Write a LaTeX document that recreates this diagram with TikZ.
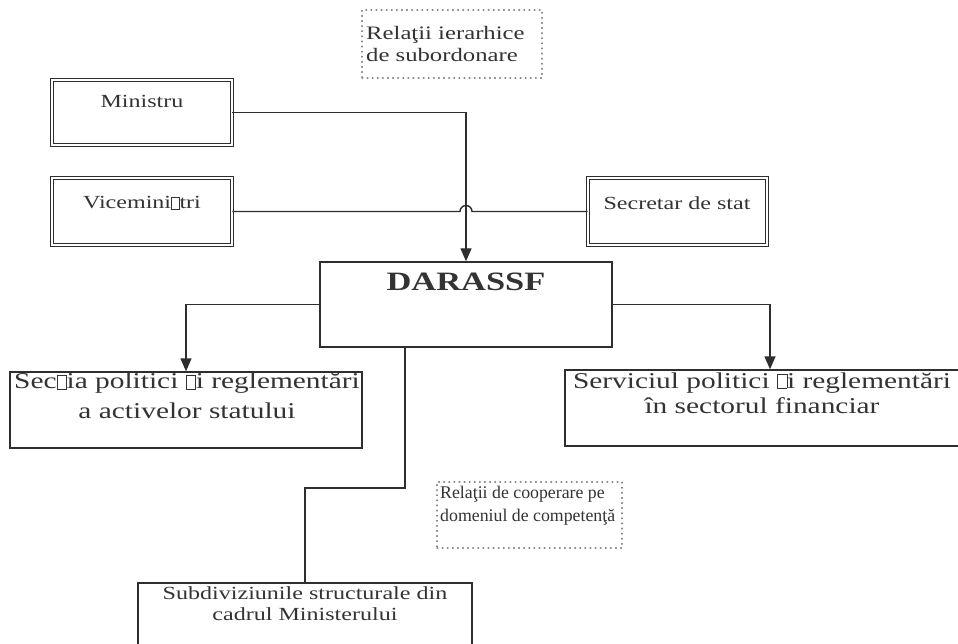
\documentclass[tikz,border=0pt]{standalone}
\usepackage{fontspec}
\setmainfont{Liberation Serif}[FakeStretch=1.3]
\newfontfamily\plainserif{Liberation Serif}
\usetikzlibrary{arrows.meta}
\definecolor{inkc}{HTML}{2E2E2E}
\definecolor{txtc}{HTML}{333333}
\definecolor{dotc}{HTML}{8A8A8A}
\newcommand\gapbox{{\setlength{\fboxsep}{0pt}\setlength{\fboxrule}{0.5pt}\fbox{\rule{0pt}{0.6em}\hspace{0.4em}}}}
\begin{document}
\begin{tikzpicture}[x=1pt,y=1pt,
  box/.style={draw=inkc, line width=1.4pt, inner sep=0pt, minimum width=#1},
  dbox/.style={draw=inkc, line width=0.9pt, double=white, double distance=1.8pt, inner sep=0pt, minimum width=#1},
  dotbox/.style={draw=dotc, line width=1.1pt, dash pattern=on 0.9pt off 4.2pt, line cap=round, inner sep=0pt, minimum width=#1},
  txt/.style={text=txtc, inner sep=0pt, align=center},
  conn/.style={draw=inkc, line width=1.4pt},
  arr/.style={conn, -{Triangle[length=13pt,width=11pt]}}]
\useasboundingbox (0,0) rectangle (958,-644);
\clip (0,0) rectangle (958,-644);
\fill[white] (0,0) rectangle (958,-644);

% dotted legend boxes
\node[dotbox=180, minimum height=68] (leg1) at (452,-44) {};
\node[txt, align=left, anchor=west, font=\fontsize{19}{22}\selectfont] (leg1t) at (366,-44) {Relaţii ierarhice\\de subordonare};
\node[dotbox=185, minimum height=66] (leg2) at (529.5,-515) {};
\node[txt, align=left, anchor=west, font=\plainserif\fontsize{17.8}{23}\selectfont] (leg2t) at (440,-506) {Relaţii de cooperare pe\\domeniul de competenţă};

% double boxes
\node[dbox=180, minimum height=65] (min) at (142,-112.5) {};
\node[txt, font=\fontsize{18.5}{20}\selectfont] (mint) at (142,-101) {Ministru};
\node[dbox=180, minimum height=67] (vic) at (142,-211.5) {};
\node[txt, font=\fontsize{18.5}{20}\selectfont] (vict) at (142,-203) {Vicemini\gapbox tri};
\node[dbox=179, minimum height=67] (sec) at (677.5,-211.5) {};
\node[txt, font=\fontsize{18.5}{20}\selectfont] (sect) at (677,-203) {Secretar de stat};

% DARASSF
\node[box=292, minimum height=85] (dar) at (466,-304.5) {};
\node[txt, font=\bfseries\fontsize{26.5}{28}\selectfont] (dart) at (466,-282) {DARASSF};

% lower boxes
\node[box=352, minimum height=76] (sec1) at (186,-410) {};
\node[txt, font=\fontsize{22.6}{30}\selectfont] (sec1t) at (187,-396) {Sec\gapbox ia politici \gapbox i reglementări\\a activelor statului};
\node[box=410, minimum height=76] (serv) at (770,-408) {};
\node[txt, font=\fontsize{22.6}{25}\selectfont] (servt) at (762,-393) {Serviciul politici \gapbox i reglementări\\în sectorul financiar};
\node[box=334, minimum height=97] (subd) at (305,-631.5) {};
\node[txt, font=\fontsize{18.5}{21}\selectfont] (subdt) at (305,-604) {Subdiviziunile structurale din\\cadrul Ministerului};

% connectors
\draw[arr] (min.east) -| (dar.north);
\coordinate (hop) at (vic.east -| dar.north);
\draw[conn] (vic.east) -- ([xshift=-6pt]hop) arc[start angle=180, end angle=0, radius=6pt] -- (sec.west);
\draw[arr] (dar.west) -| (sec1.north);
\draw[arr] (dar.east) -| (serv.north);
\coordinate (b0) at (405,-347);
\coordinate (b1) at (405,-488);
\coordinate (b2) at (305,-488);
\draw[conn] (b0) -- (b1) -- (b2) -- (subd.north);
\end{tikzpicture}
\end{document}
